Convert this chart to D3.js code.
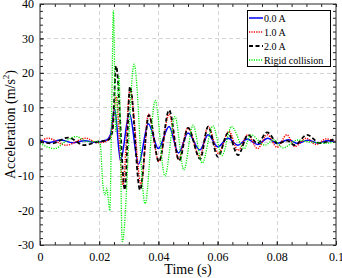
<!DOCTYPE html>
<html>
<head>
<meta charset="utf-8">
<script src="https://cdn.jsdelivr.net/npm/d3@7"></script>
<style>
  body { margin: 0; background: #fff; }
  svg { display: block; font-family: "Liberation Serif", "Times New Roman", serif; }
</style>
</head>
<body>
<svg width="342" height="278"></svg>
<script>
// series: time (s) and acceleration (m/s^2)
const tBlue = [0, 0.003, 0.007, 0.011, 0.015, 0.019, 0.0225, 0.0238, 0.0252, 0.0272, 0.0302, 0.0333, 0.0366, 0.0400, 0.0436, 0.0468, 0.0500, 0.0540, 0.0568, 0.0601, 0.0635, 0.0669, 0.0700, 0.0735, 0.0770, 0.0800, 0.0840, 0.0870, 0.0905, 0.0940, 0.0970, 0.1];
const aBlue = [0.5, -0.2, 0.5, -0.3, 0.3, -0.2, 0.5, 2, 9.5, -5.5, 8.3, -6.5, 5.2, -2, 4.4, -3.3, 2.5, -2.4, 2, -1.5, 1, -1, 0.8, -0.8, 1, -0.5, 0.6, -0.5, 0.4, -0.4, 0.3, 0];

const tRed = [0, 0.0027, 0.0088, 0.0155, 0.0195, 0.0225, 0.0240, 0.0257, 0.0280, 0.0304, 0.0342, 0.0366, 0.0402, 0.0436, 0.0468, 0.0500, 0.0540, 0.0568, 0.0603, 0.0638, 0.0669, 0.0702, 0.0735, 0.0768, 0.0801, 0.0834, 0.0861, 0.0900, 0.0933, 0.0966, 0.1];
const aRed = [0, 1, -1, 1, -0.3, 0.2, 2, 13, -12.5, 15, -12.6, 8, -5.8, 8, -5, 4, -4.4, 4.4, -3.4, 3, -2.5, 2, -2, 2, -1.6, 2, -1.4, 1, -0.8, 0.8, 0];

const tBlack = [0, 0.0040, 0.0095, 0.0150, 0.0195, 0.0230, 0.0245, 0.0257, 0.0287, 0.0304, 0.0338, 0.0368, 0.0402, 0.0436, 0.0470, 0.0500, 0.0541, 0.0568, 0.0601, 0.0635, 0.0669, 0.0703, 0.0735, 0.0767, 0.0805, 0.0835, 0.0860, 0.0902, 0.0946, 0.1];
const aBlack = [0, -0.5, 1.2, -1, 0, 0.5, 3, 22, -14, 16, -14, 7.7, -5.8, 9.2, -5.5, 4, -5, 4.4, -4.4, 2.5, -3.9, 2, -0.5, 2.7, -0.5, 0.3, -1, 2, -0.4, 1];

const tGreen = [0, 0.0050, 0.0085, 0.0122, 0.0160, 0.0195, 0.0203, 0.0213, 0.0220, 0.0226, 0.0231, 0.0236, 0.0242, 0.0248, 0.0256, 0.0267, 0.0278, 0.0318, 0.0355, 0.0389, 0.0422, 0.0456, 0.0486, 0.0517, 0.0548, 0.0584, 0.0615, 0.0647, 0.0690, 0.0712, 0.0760, 0.0790, 0.0821, 0.0870, 0.0905, 0.0970, 0.1];
const aGreen = [-0.5, -2, 0, 1.5, 0, 0, -0.5, -13, -15.5, -13.5, -17, -20, 8, 38, 3, 19, -29, 22.5, -18, 12, -10, 7.3, -8.2, 4.8, -6.2, 4.6, -4, 4.4, -2, 2, -1, 0.5, -1.8, 0.5, 0, -0.4, 0];

const seriesNames = ["0.0 A", "1.0 A", "2.0 A", "Rigid collision"];

const xTicks = [0, 0.02, 0.04, 0.06, 0.08, 0.1];
const xTickLabels = ["0", "0.02", "0.04", "0.06", "0.08", "0.1"];
const yTicks = [-30, -20, -10, 0, 10, 20, 30, 40];
const yTickLabels = ["-30", "-20", "-10", "0", "10", "20", "30", "40"];

const svg = d3.select("svg");
const pLeft = 40, pRight = 336, pTop = 4, pBottom = 245;

const x = d3.scaleLinear().domain([0, 0.1]).range([pLeft, pRight]);
const y = d3.scaleLinear().domain([-30, 40]).range([pBottom, pTop]);

// grid
const grid = svg.append("g")
    .attr("stroke", "#d4d4d4")
    .attr("stroke-width", 1)
    .attr("stroke-dasharray", "4,3");
xTicks.slice(1, -1).forEach(t => {
    grid.append("line")
        .attr("x1", Math.round(x(t)) + 0.5).attr("x2", Math.round(x(t)) + 0.5)
        .attr("y1", pTop).attr("y2", pBottom);
});
yTicks.slice(1, -1).forEach(v => {
    grid.append("line")
        .attr("x1", pLeft).attr("x2", pRight)
        .attr("y1", Math.round(y(v)) + 0.5).attr("y2", Math.round(y(v)) + 0.5);
});

// lines
svg.append("clipPath").attr("id", "clip")
    .append("rect")
    .attr("x", pLeft).attr("y", pTop)
    .attr("width", pRight - pLeft).attr("height", pBottom - pTop);

const line = d3.line()
    .x(d => x(d[0]))
    .y(d => y(d[1]))
    .curve(d3.curveMonotoneX);

const series = [
    {t: tBlue, a: aBlue, color: "#0000ff", width: 1.5, dash: null},
    {t: tRed, a: aRed, color: "#ff0000", width: 1.5, dash: "1.2,1.2"},
    {t: tBlack, a: aBlack, color: "#000000", width: 1.8, dash: "4,2.5"},
    {t: tGreen, a: aGreen, color: "#00ee00", width: 1.3, dash: "1.2,1.2"}
];

const plot = svg.append("g").attr("clip-path", "url(#clip)");
series.forEach(s => {
    plot.append("path")
        .datum(s.t.map((t, i) => [t, s.a[i]]))
        .attr("fill", "none")
        .attr("stroke", s.color)
        .attr("stroke-width", s.width)
        .attr("stroke-dasharray", s.dash)
        .attr("d", line);
});

// axes with inward ticks on all four sides
const xMinor = d3.range(0, 0.1001, 0.005);
const yMinor = d3.range(-30, 40.01, 2);

function styleAxis(g) {
    g.select(".domain").remove();
    g.selectAll("line").attr("stroke", "#262626");
    g.selectAll("text")
        .attr("font-family", "Liberation Serif, Times New Roman, serif")
        .attr("font-size", 12)
        .attr("fill", "#000");
}

svg.append("g")
    .attr("transform", `translate(0,${pBottom})`)
    .call(d3.axisBottom(x).tickValues(xMinor).tickSize(-3).tickFormat(""))
    .call(styleAxis);
svg.append("g")
    .attr("transform", `translate(0,${pBottom})`)
    .call(d3.axisBottom(x).tickValues(xTicks).tickSize(-4).tickPadding(7)
        .tickFormat((d, i) => xTickLabels[i]))
    .call(styleAxis);
svg.append("g")
    .attr("transform", `translate(0,${pTop})`)
    .call(d3.axisTop(x).tickValues(xMinor).tickSize(-3).tickFormat(""))
    .call(styleAxis);

svg.append("g")
    .attr("transform", `translate(${pLeft},0)`)
    .call(d3.axisLeft(y).tickValues(yMinor).tickSize(-3).tickFormat(""))
    .call(styleAxis);
svg.append("g")
    .attr("transform", `translate(${pLeft},0)`)
    .call(d3.axisLeft(y).tickValues(yTicks).tickSize(-4).tickPadding(6)
        .tickFormat((d, i) => yTickLabels[i]))
    .call(styleAxis);
svg.append("g")
    .attr("transform", `translate(${pRight},0)`)
    .call(d3.axisRight(y).tickValues(yMinor).tickSize(-3).tickFormat(""))
    .call(styleAxis);

// box
svg.append("rect")
    .attr("x", pLeft).attr("y", pTop)
    .attr("width", pRight - pLeft).attr("height", pBottom - pTop)
    .attr("fill", "none")
    .attr("stroke", "#262626")
    .attr("stroke-width", 1);

// axis labels
svg.append("text")
    .attr("x", (pLeft + pRight) / 2)
    .attr("y", 274)
    .attr("text-anchor", "middle")
    .attr("font-size", 14)
    .text("Time (s)");

const yl = svg.append("text")
    .attr("transform", `translate(15,${(pTop + pBottom) / 2}) rotate(-90)`)
    .attr("text-anchor", "middle")
    .attr("font-size", 14);
yl.append("tspan").text("Acceleration (m/s");
yl.append("tspan").attr("font-size", 9).attr("dy", -6).text("2");
yl.append("tspan").attr("dy", 6).text(")");

// legend
const lg = svg.append("g").attr("transform", "translate(247,10)");
lg.append("rect")
    .attr("x", 0.5).attr("y", 0.5)
    .attr("width", 83).attr("height", 56)
    .attr("fill", "#fff")
    .attr("stroke", "#000")
    .attr("stroke-width", 1);
series.forEach((s, i) => {
    const yy = 8 + i * 14;
    lg.append("line")
        .attr("x1", 2).attr("x2", 16)
        .attr("y1", yy).attr("y2", yy)
        .attr("stroke", s.color)
        .attr("stroke-width", s.width)
        .attr("stroke-dasharray", s.dash);
    lg.append("text")
        .attr("x", 17)
        .attr("y", yy + 3.5)
        .attr("font-size", 10)
        .text(seriesNames[i]);
});
</script>
</body>
</html>
